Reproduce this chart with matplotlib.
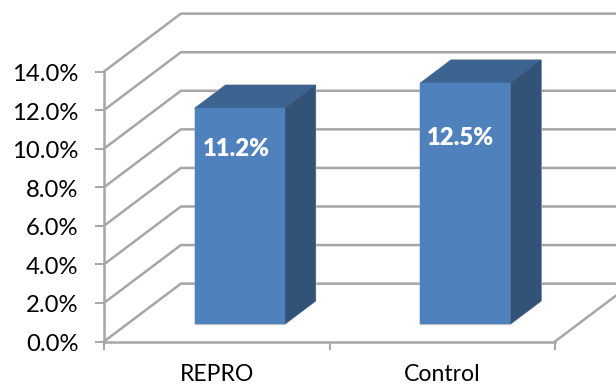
import matplotlib
matplotlib.use('Agg')
import matplotlib.pyplot as plt
from matplotlib.transforms import ScaledTranslation

plt.rcParams['font.family'] = ['Lato', 'DejaVu Sans']

categories = ['REPRO', 'Control']
values = [11.2, 12.5]
value_labels = ['11.2%', '12.5%']
grid_levels = [0, 2, 4, 6, 8, 10, 12, 14]
tick_labels = ['0.0%', '2.0%', '4.0%', '6.0%', '8.0%', '10.0%', '12.0%', '14.0%']

GRID = '#A6A6A6'
FRONT = '#4F81BD'
TOP = '#3D6390'
SIDE = '#325277'

# oblique 3D: a full step in depth moves right and up by this much (data units)
DEPTH_X = 0.341
DEPTH_Y = 3.0


def project(x, v, d):
    return x + d * DEPTH_X, v + d * DEPTH_Y


def face(corners):
    return [project(*c) for c in corners]


fig = plt.figure(figsize=(6.16, 3.84), dpi=100)
ax = fig.add_axes([104 / 616, (384 - 341.5) / 384, 451 / 616, 270 / 384])
ax.set_xlim(0, 2)
ax.set_ylim(0, 14)
ax.patch.set_visible(False)

# side wall and back wall gridlines
for v in grid_levels:
    pts = face([(0, v, 0), (0, v, 1), (2, v, 1)])
    ax.plot([p[0] for p in pts], [p[1] for p in pts], color=GRID, lw=1.8,
            clip_on=False, zorder=1, solid_joinstyle='miter')

# right edge of the floor
pts = face([(2, 0, 0), (2, 0, 1)])
ax.plot([p[0] for p in pts], [p[1] for p in pts], color=GRID, lw=1.8, clip_on=False, zorder=1)

# bars as three visible faces
width = 0.4
d0, d1 = 0.3, 0.7
for i, val in enumerate(values):
    x0 = i + 0.5 - width / 2
    x1 = i + 0.5 + width / 2
    front = face([(x0, 0, d0), (x1, 0, d0), (x1, val, d0), (x0, val, d0)])
    top = face([(x0, val, d0), (x1, val, d0), (x1, val, d1), (x0, val, d1)])
    side = face([(x1, 0, d0), (x1, 0, d1), (x1, val, d1), (x1, val, d0)])
    for poly, col in [(front, FRONT), (top, TOP), (side, SIDE)]:
        ax.fill([p[0] for p in poly], [p[1] for p in poly], facecolor=col,
                edgecolor='#D4D4D4', lw=1.0, clip_on=False, zorder=3)
    for poly, col in [(top, TOP), (side, SIDE), (front, FRONT)]:
        ax.fill([p[0] for p in poly], [p[1] for p in poly], facecolor=col,
                edgecolor=col, lw=0.3, clip_on=False, zorder=4)

# value labels sit on the front faces
ax.text(0.5 + 0.088, 9.96, value_labels[0], color='white', fontsize=17.2,
        fontweight='heavy', ha='center', va='center', zorder=5)
ax.text(1.5 + 0.08, 10.53, value_labels[1], color='white', fontsize=17.2,
        fontweight='heavy', ha='center', va='center', zorder=5)

for name in ['top', 'right']:
    ax.spines[name].set_visible(False)
for name in ['left', 'bottom']:
    ax.spines[name].set_color(GRID)
    ax.spines[name].set_linewidth(1.8)
    ax.spines[name].set_zorder(2)

ax.set_yticks(grid_levels)
ax.set_yticklabels(tick_labels, fontsize=17.2, color='black')
ax.tick_params(axis='y', length=6.5, width=1.4, color=GRID, pad=12)

# nudge the value axis labels down a touch
nudge = ScaledTranslation(0, -1 / 100, fig.dpi_scale_trans)
for label in ax.get_yticklabels():
    label.set_transform(label.get_transform() + nudge)

# ticks mark the category boundaries, labels sit between them
ax.set_xticks([0, 1, 2])
ax.set_xticklabels([])
ax.set_xticks([0.5, 1.5], minor=True)
ax.set_xticklabels(categories, minor=True, fontsize=16.6)
ax.tick_params(axis='x', which='major', length=5.5, width=1.4, color=GRID)
ax.tick_params(axis='x', which='minor', length=0, pad=16)

fig.savefig('out.png', dpi=100)
